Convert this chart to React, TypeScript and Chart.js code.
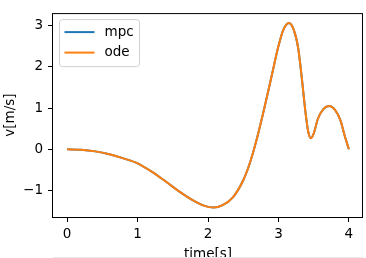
import React, { useEffect, useRef } from "react";
import { Chart, registerables } from "chart.js";

Chart.register(...registerables);

const times = [
  0, 0.2, 0.4, 0.6, 0.8, 1.0, 1.2, 1.4, 1.6, 1.8, 1.95, 2.08, 2.2, 2.35, 2.5, 2.6, 2.7,
  2.8, 2.9, 3.0, 3.07, 3.15, 3.22, 3.28, 3.33, 3.38, 3.42, 3.46, 3.5, 3.56, 3.64, 3.72,
  3.8, 3.88, 3.94, 4.0,
];
const mpcValues = [
  0, -0.01, -0.05, -0.12, -0.22, -0.34, -0.54, -0.78, -1.03, -1.25, -1.37, -1.41, -1.36,
  -1.17, -0.75, -0.3, 0.3, 1.0, 1.75, 2.5, 2.9, 3.06, 2.88, 2.45, 1.75, 0.95, 0.45, 0.27,
  0.38, 0.74, 0.98, 1.05, 0.96, 0.7, 0.33, 0.0,
];
const odeValues = [
  0, -0.01, -0.05, -0.12, -0.22, -0.34, -0.54, -0.78, -1.03, -1.25, -1.37, -1.41, -1.36,
  -1.17, -0.75, -0.3, 0.3, 1.0, 1.75, 2.5, 2.9, 3.06, 2.88, 2.45, 1.75, 0.95, 0.45, 0.27,
  0.38, 0.74, 0.98, 1.05, 0.96, 0.7, 0.33, 0.0,
];
const seriesLabels = ["mpc", "ode"];
const seriesColors = ["#1f77b4", "#ff7f0e"];
const xTicks = [0, 1, 2, 3, 4];
const yTicks = [-1, 0, 1, 2, 3];
const xTitle = "time[s]";
const yTitle = "v[m/s]";

const FONT = "DejaVu Sans";
const FS = 13.5;

const framePlugin = {
  id: "frameAndLegend",
  afterDatasetsDraw(chart: any) {
    const { ctx, chartArea: a } = chart;
    ctx.save();
    ctx.strokeStyle = "#000";
    ctx.lineWidth = 1;
    ctx.strokeRect(a.left - 0.5, a.top + 0.5, a.right - a.left, a.bottom - a.top);

    // legend
    const bx = a.left + 6.5;
    const by = a.top + 6.5;
    const bw = 80;
    const bh = 47;
    const r = 3;
    ctx.beginPath();
    ctx.moveTo(bx + r, by);
    ctx.lineTo(bx + bw - r, by);
    ctx.arcTo(bx + bw, by, bx + bw, by + r, r);
    ctx.lineTo(bx + bw, by + bh - r);
    ctx.arcTo(bx + bw, by + bh, bx + bw - r, by + bh, r);
    ctx.lineTo(bx + r, by + bh);
    ctx.arcTo(bx, by + bh, bx, by + bh - r, r);
    ctx.lineTo(bx, by + r);
    ctx.arcTo(bx, by, bx + r, by, r);
    ctx.closePath();
    ctx.fillStyle = "rgba(255,255,255,0.8)";
    ctx.fill();
    ctx.strokeStyle = "#d0d0d0";
    ctx.stroke();

    chart.data.datasets.forEach((ds: any, i: number) => {
      const y = by + 12.5 + i * 20.5;
      ctx.beginPath();
      ctx.strokeStyle = ds.borderColor;
      ctx.lineWidth = 2;
      ctx.moveTo(bx + 5, y);
      ctx.lineTo(bx + 35, y);
      ctx.stroke();
      ctx.fillStyle = "#000";
      ctx.font = `${FS}px "${FONT}"`;
      ctx.textBaseline = "middle";
      ctx.textAlign = "left";
      ctx.fillText(ds.label, bx + 45, y);
    });

    // faint line from a cropped subplot below
    ctx.beginPath();
    ctx.strokeStyle = "#ebebeb";
    ctx.lineWidth = 1;
    ctx.moveTo(a.left, 257.5);
    ctx.lineTo(a.right, 257.5);
    ctx.stroke();
    ctx.restore();
  },
};

export default function App() {
  const canvasRef = useRef<HTMLCanvasElement | null>(null);

  useEffect(() => {
    if (!canvasRef.current) return;
    const makeData = (vals: number[]) => times.map((t, i) => ({ x: t, y: vals[i] }));
    const chart = new Chart(canvasRef.current, {
      type: "line",
      data: {
        datasets: [
          {
            label: seriesLabels[0],
            data: makeData(mpcValues),
            borderColor: seriesColors[0],
            backgroundColor: seriesColors[0],
            borderWidth: 2,
            pointRadius: 0,
            cubicInterpolationMode: "monotone",
            order: 1,
          },
          {
            label: seriesLabels[1],
            data: makeData(odeValues),
            borderColor: seriesColors[1],
            backgroundColor: seriesColors[1],
            borderWidth: 2,
            pointRadius: 0,
            cubicInterpolationMode: "monotone",
            order: 0,
          },
        ],
      },
      options: {
        animation: false,
        responsive: false,
        devicePixelRatio: 1,
        layout: { padding: { left: 0, right: 3, top: 10, bottom: 0 } },
        plugins: { legend: { display: false }, tooltip: { enabled: false } },
        scales: {
          x: {
            type: "linear",
            min: -0.2,
            max: 4.2,
            afterBuildTicks: (s: any) => {
              s.ticks = xTicks.map((v) => ({ value: v }));
            },
            afterFit: (s: any) => {
              s.height = 41;
            },
            border: { display: false },
            grid: { drawOnChartArea: false, drawTicks: true, tickLength: 5, color: "#000", lineWidth: 1 },
            ticks: { color: "#000", font: { family: FONT, size: FS }, padding: 4, maxRotation: 0 },
            title: {
              display: true,
              text: xTitle,
              color: "#000",
              font: { family: FONT, size: FS },
              padding: { top: 0, bottom: -5 },
            },
          },
          y: {
            type: "linear",
            min: -1.64,
            max: 3.3,
            afterBuildTicks: (s: any) => {
              s.ticks = yTicks.map((v) => ({ value: v }));
            },
            afterFit: (s: any) => {
              s.width = 53;
            },
            border: { display: false },
            grid: { drawOnChartArea: false, drawTicks: true, tickLength: 5, color: "#000", lineWidth: 1 },
            ticks: {
              color: "#000",
              font: { family: FONT, size: FS },
              padding: 5,
              callback: (v: any) => String(v).replace("-", "\u2212"),
            },
            title: {
              display: true,
              text: yTitle,
              color: "#000",
              font: { family: FONT, size: FS },
              padding: { top: 2, bottom: 0 },
            },
          },
        },
      },
      plugins: [framePlugin],
    });
    return () => chart.destroy();
  }, []);

  return (
    <div style={{ position: "absolute", left: 0, top: 0, width: 366, height: 258, background: "#fff" }}>
      <canvas ref={canvasRef} width={366} height={258} style={{ display: "block" }} />
    </div>
  );
}
